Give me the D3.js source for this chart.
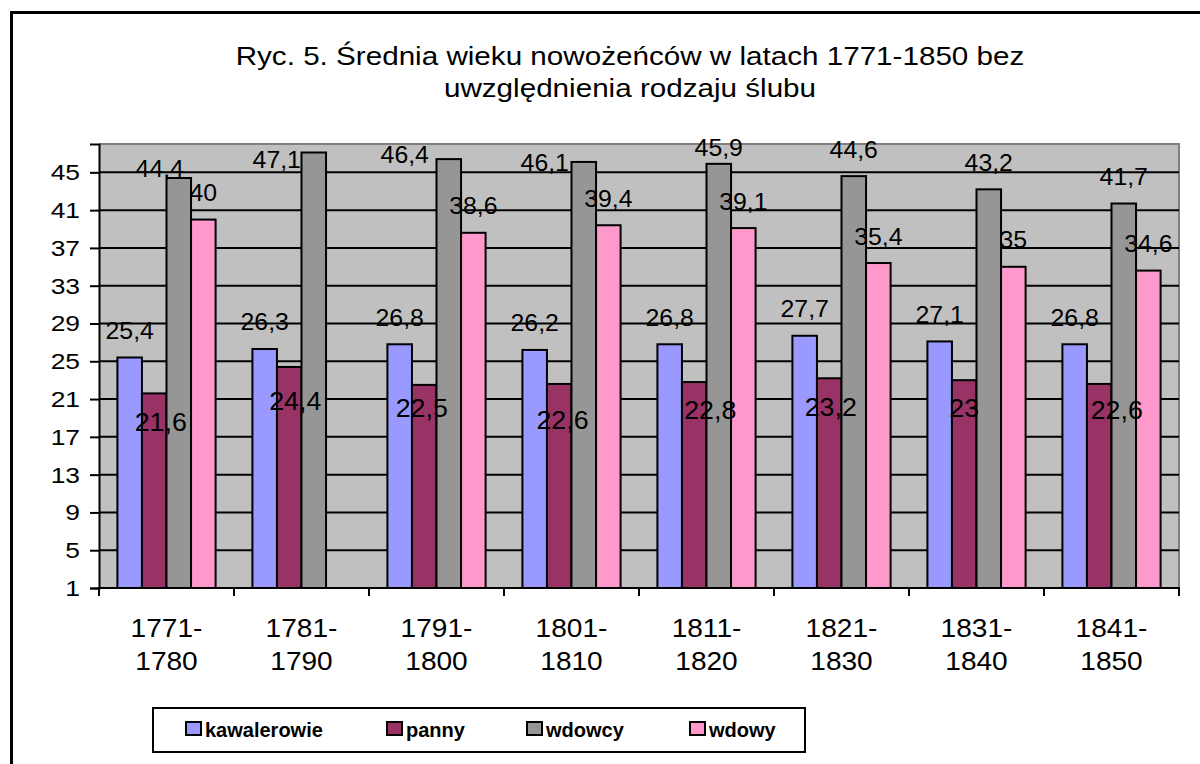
<!DOCTYPE html>
<html><head><meta charset="utf-8">
<script src="https://cdn.jsdelivr.net/npm/d3@7"></script>
<style>
body{margin:0;background:#fff}
svg{display:block}
text{font-family:"Liberation Sans",Arial,Helvetica,sans-serif;fill:#000}
</style>
</head><body>
<svg id="chart" width="1200" height="764"></svg>
<script>
// ---------------- data ----------------
const titleLines = ["Ryc. 5. Średnia wieku nowożeńców w latach 1771-1850 bez", "uwzględnienia rodzaju ślubu"];
const periods = ["1771-1780","1781-1790","1791-1800","1801-1810","1811-1820","1821-1830","1831-1840","1841-1850"];
const seriesNames = ["kawalerowie","panny","wdowcy","wdowy"];
const kawalerowie = [25.4, 26.3, 26.8, 26.2, 26.8, 27.7, 27.1, 26.8];
const panny       = [21.6, 24.4, 22.5, 22.6, 22.8, 23.2, 23.0, 22.6];
const wdowcy      = [44.4, 47.1, 46.4, 46.1, 45.9, 44.6, 43.2, 41.7];
const wdowy       = [40.0, null, 38.6, 39.4, 39.1, 35.4, 35.0, 34.6];
const yTicks = [1,5,9,13,17,21,25,29,33,37,41,45];
const yDomain = [1, 48];

// ---------------- layout / style ----------------
const seriesColors = ["#9999FF","#993366","#969696","#FF99CC"];
// label nudges (dx, dy) relative to default position (centered, above bar)
const labelNudge = [
  [[0,0],[0,0],[0,0],[0,0],[0,0],[0,0],[0,0],[0,0]],
  [[6.5,56.5],[6,61.5],[-2.5,50.2],[3.3,63.5],[16,55.5],[1.5,56.5],[0,55],[17.5,53.5]],
  [[-19,17.5],[-37,33.5],[-44,22.5],[-39,28],[0,11],[0,0],[0,0],[0,0]],
  [[0,0],[0,0],[0,0],[0,0],[0,0],[0,0],[0,0],[0,0]]
];
const plot = {left: 99, right: 1179, top: 144, bottom: 588};

const svg = d3.select("#chart");
const seriesValues = [kawalerowie, panny, wdowcy, wdowy];

function stext(g, x, y, str, size, sx, anchor, weight) {
  return g.append("text")
    .attr("transform", `translate(${x},${y}) scale(${sx},1)`)
    .attr("text-anchor", anchor || "middle")
    .attr("font-size", size)
    .attr("font-weight", weight || "normal")
    .text(str);
}

// outer frame
svg.append("rect").attr("x", 11.5).attr("y", 12.5).attr("width", 1250).attr("height", 800)
  .attr("fill", "none").attr("stroke", "#000").attr("stroke-width", 3);

// title
titleLines.forEach((t, i) => stext(svg, 630, 65 + i * 32, t, 26, 1.14));

// scales
const x0 = d3.scaleBand().domain(periods).range([plot.left, plot.right]).padding(0);
const bw = x0.bandwidth() / 5.5;
const x1 = d3.scaleBand().domain(seriesNames)
  .range([x0.bandwidth() * 0.75 / 5.5, x0.bandwidth() * 0.75 / 5.5 + 4 * bw]).padding(0);
const y = d3.scaleLinear().domain(yDomain).range([plot.bottom, plot.top]);

// plot background
svg.append("rect").attr("x", plot.left).attr("y", plot.top)
  .attr("width", plot.right - plot.left).attr("height", plot.bottom - plot.top)
  .attr("fill", "#C0C0C0");
svg.append("path")
  .attr("d", `M${plot.left},${plot.top}H${plot.right}V${plot.bottom}`)
  .attr("fill", "none").attr("stroke", "#808080").attr("stroke-width", 2);

// gridlines
svg.append("g").selectAll("line").data(yTicks.filter(t => t > yDomain[0])).join("line")
  .attr("x1", plot.left).attr("x2", plot.right)
  .attr("y1", d => y(d)).attr("y2", d => y(d))
  .attr("stroke", "#000").attr("stroke-width", 2);

// y axis
const yAxis = svg.append("g").attr("transform", `translate(${plot.left},0)`)
  .call(d3.axisLeft(y).tickValues(yTicks).tickSize(9).tickFormat(""));
yAxis.select(".domain").attr("stroke", "#000").attr("stroke-width", 2);
yAxis.selectAll(".tick line").attr("stroke", "#000").attr("stroke-width", 2);
yTicks.forEach(t => stext(svg, 80, y(t) + 8, String(t), 22, 1.2, "end"));

// bars
const groups = svg.append("g").selectAll("g").data(periods).join("g")
  .attr("transform", d => `translate(${x0(d)},0)`);
groups.selectAll("rect")
  .data((p, i) => seriesNames.map((s, j) => ({s, j, v: seriesValues[j][i]})).filter(d => d.v != null))
  .join("rect")
  .attr("x", d => x1(d.s)).attr("width", x1.bandwidth())
  .attr("y", d => y(d.v)).attr("height", d => y(yDomain[0]) - y(d.v))
  .attr("fill", d => seriesColors[d.j])
  .attr("stroke", "#000").attr("stroke-width", 2);

// x axis
const xAxisG = svg.append("g").attr("transform", `translate(0,${plot.bottom})`);
xAxisG.append("line").attr("x1", plot.left - 1).attr("x2", plot.right + 1)
  .attr("stroke", "#000").attr("stroke-width", 2);
const boundaries = periods.map(p => x0(p)).concat([x0(periods[periods.length - 1]) + x0.bandwidth()]);
xAxisG.selectAll(".tk").data(boundaries).join("line").attr("class", "tk")
  .attr("x1", d => d).attr("x2", d => d).attr("y1", 0).attr("y2", 8)
  .attr("stroke", "#000").attr("stroke-width", 2);
periods.forEach(p => {
  const [a, b] = p.split("-");
  const cx = x0(p) + x0.bandwidth() / 2;
  stext(svg, cx, 637, a + "-", 26, 1.08);
  stext(svg, cx, 670, b, 26, 1.08);
});

// value labels
const fmt = v => String(v).replace(".", ",");
const labelG = svg.append("g");
seriesValues.forEach((vals, j) => {
  vals.forEach((v, i) => {
    if (v == null) return;
    const cx = x0(periods[i]) + x1(seriesNames[j]) + x1.bandwidth() / 2 + labelNudge[j][i][0];
    const by = y(v) - 18.5 + labelNudge[j][i][1];
    if (j === 1) stext(labelG, cx, by, fmt(v), 26, 1.03);
    else stext(labelG, cx, by, fmt(v), 23, 1.08);
  });
});

// legend
const lg = svg.append("g");
lg.append("rect").attr("x", 153).attr("y", 708).attr("width", 652).attr("height", 44)
  .attr("fill", "#fff").attr("stroke", "#000").attr("stroke-width", 2);
const legendX = [186, 387, 527, 690];
seriesNames.forEach((s, j) => {
  lg.append("rect").attr("x", legendX[j]).attr("y", 722).attr("width", 15).attr("height", 13)
    .attr("fill", seriesColors[j]).attr("stroke", "#000").attr("stroke-width", 2);
  lg.append("text").attr("x", legendX[j] + 19).attr("y", 737)
    .attr("font-size", 20).attr("font-weight", "bold").text(s);
});
</script>
</body></html>
